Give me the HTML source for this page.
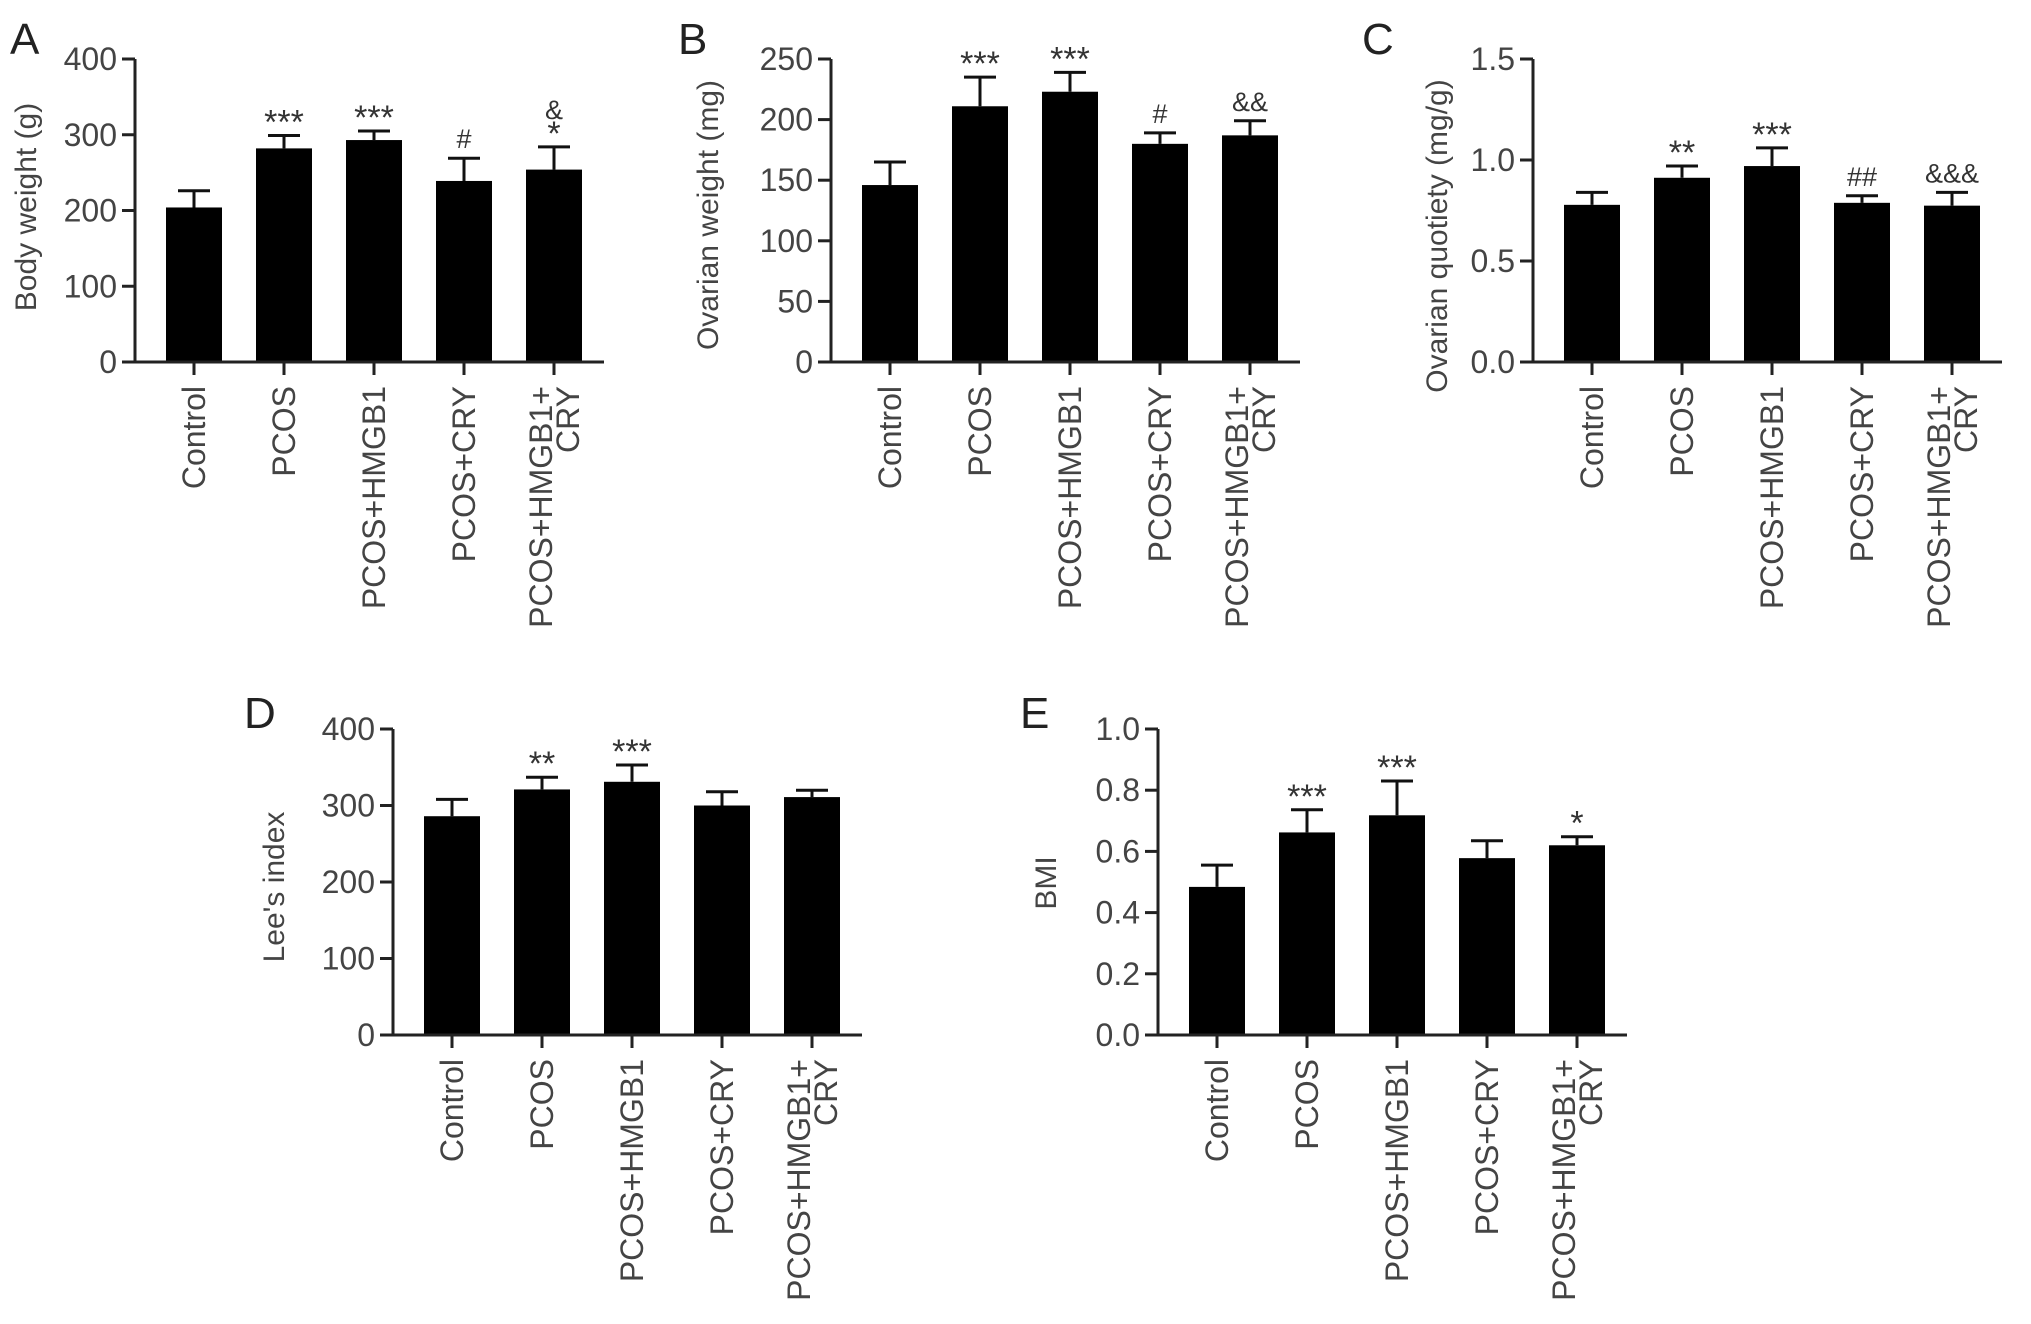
<!DOCTYPE html>
<html><head><meta charset="utf-8"><style>
html,body{margin:0;padding:0;background:#fff;}
svg{display:block;font-family:"Liberation Sans",sans-serif;}
</style></head><body>
<svg id="fig" width="2031" height="1324" viewBox="0 0 2031 1324" xmlns="http://www.w3.org/2000/svg"></svg>
<script>
const categories = ["Control","PCOS","PCOS+HMGB1","PCOS+CRY","PCOS+HMGB1+|CRY"];
const valuesA = [204, 282, 293, 239, 254];
const errorsA = [22, 17, 12, 30, 30];
const marksA = ["", "***", "***", "#", "&|*"];
const ticksA = [0,100,200,300,400];
const valuesB = [146, 211, 223, 180, 187];
const errorsB = [19, 24, 16, 9, 12];
const marksB = ["", "***", "***", "#", "&&"];
const ticksB = [0,50,100,150,200,250];
const valuesC = [0.778, 0.912, 0.97, 0.788, 0.774];
const errorsC = [0.062, 0.058, 0.09, 0.035, 0.066];
const marksC = ["", "**", "***", "##", "&&&"];
const ticksC = ["0.0","0.5","1.0","1.5"];
const valuesD = [286, 321, 331, 300, 311];
const errorsD = [22, 16, 22, 18, 9];
const marksD = ["", "**", "***", "", ""];
const ticksD = [0,100,200,300,400];
const valuesE = [0.484, 0.662, 0.718, 0.578, 0.62];
const errorsE = [0.071, 0.074, 0.112, 0.057, 0.028];
const marksE = ["", "***", "***", "", "*"];
const ticksE = ["0.0","0.2","0.4","0.6","0.8","1.0"];

const NS="http://www.w3.org/2000/svg";
const svg=document.getElementById('fig');
function mk(tag,attrs,parent){const e=document.createElementNS(NS,tag);for(const k in attrs)e.setAttribute(k,attrs[k]);(parent||svg).appendChild(e);return e;}

function panel(cfg){
  const g=mk('g',{});
  
  
  const ymax=cfg.ymax;
  const yS=v=>cfg.y0-(v/ymax)*(cfg.y0-cfg.yTop);
  const xS=i=>cfg.ax+59+90*i;
  const xEnd=xS(categories.length-1)+50;
  const bw=56;
  const L=mk('text',{x:cfg.lx,y:cfg.ly,'font-size':44,fill:'#222'},g);L.textContent=cfg.letter;
  
  
  const T=mk('text',{x:0,y:0,'font-size':30,fill:'#444','text-anchor':'middle',transform:`translate(${cfg.tx},${cfg.ty}) rotate(-90)`},g);T.textContent=cfg.title;
  
  
  cfg.values.forEach((v,i)=>{
    const cx=xS(i), top=yS(v), et=yS(v+cfg.errors[i]);
    const r=mk('rect',{x:cx-bw/2,y:top,width:bw,height:cfg.y0-top,fill:'#000'},g);
    
    
    const eb=mk('path',{d:`M${cx} ${top} V${et} M${cx-16} ${et} H${cx+16}`,stroke:'#111','stroke-width':3,fill:'none'},g);
    
    
    const m=cfg.marks[i];
    if(m){
      const parts=m.split('|');
      let base=et;
      for(let p=parts.length-1;p>=0;p--){
        const s=parts[p];
        const star=s[0]==='*';
        const t=mk('text',{x:cx,y:star?base-2:base-10,'font-size':star?34:27,fill:'#333','text-anchor':'middle'},g);
        t.textContent=s;
        
        
        base-=star?18:28;
      }
    }
    mk('line',{x1:cx,y1:cfg.y0,x2:cx,y2:cfg.y0+13,stroke:'#222','stroke-width':3},g);
    const lines=categories[i].split('|');
    lines.forEach((ln,j)=>{
      const off=lines.length>1?(j===0?-13:14):0;
      const lx=cx+off+11;
      const tl=mk('text',{x:0,y:0,'font-size':32,fill:'#444','text-anchor':'end',transform:`translate(${lx},${cfg.y0+24}) rotate(-90)`},g);
      tl.textContent=ln;
      
      
    });
  });
  const ya=mk('line',{x1:cfg.ax,y1:cfg.yTop,x2:cfg.ax,y2:cfg.y0+1.5,stroke:'#222','stroke-width':3},g);
  
  
  const xa=mk('line',{x1:cfg.ax-13,y1:cfg.y0,x2:xEnd,y2:cfg.y0,stroke:'#222','stroke-width':3},g);
  
  
  cfg.ticks.forEach(t=>{
    const y=yS(parseFloat(t));
    mk('line',{x1:cfg.ax-13,y1:y,x2:cfg.ax,y2:y,stroke:'#222','stroke-width':3},g);
    const tt=mk('text',{x:cfg.ax-18,y:y+11,'font-size':32,fill:'#444','text-anchor':'end'},g);
    tt.textContent=t;
    
    
  });
}

panel({letter:'A',lx:10,ly:54,title:'Body weight (g)',tx:36,ty:207,ax:135,yTop:59,y0:362,ymax:400,values:valuesA,errors:errorsA,marks:marksA,ticks:ticksA});
panel({letter:'B',lx:678,ly:54,title:'Ovarian weight (mg)',tx:718,ty:215,ax:831,yTop:59,y0:362,ymax:250,values:valuesB,errors:errorsB,marks:marksB,ticks:ticksB});
panel({letter:'C',lx:1362,ly:54,title:'Ovarian quotiety (mg/g)',tx:1447,ty:236,ax:1533,yTop:59,y0:362,ymax:1.5,values:valuesC,errors:errorsC,marks:marksC,ticks:ticksC});
panel({letter:'D',lx:244,ly:728,title:"Lee's index",tx:284,ty:887,ax:393,yTop:729,y0:1035,ymax:400,values:valuesD,errors:errorsD,marks:marksD,ticks:ticksD});
panel({letter:'E',lx:1020,ly:728,title:'BMI',tx:1056,ty:883,ax:1158,yTop:729,y0:1035,ymax:1.0,values:valuesE,errors:errorsE,marks:marksE,ticks:ticksE});
</script>
</body></html>
